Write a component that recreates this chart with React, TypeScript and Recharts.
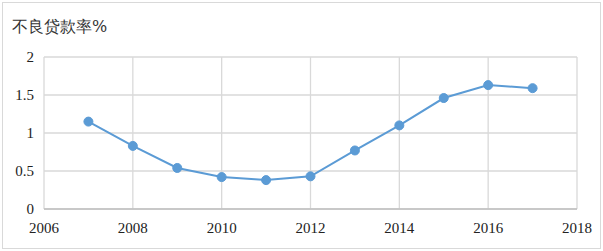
import React from 'react';
import { LineChart, Line, XAxis, YAxis, CartesianGrid } from 'recharts';

const years = [2007, 2008, 2009, 2010, 2011, 2012, 2013, 2014, 2015, 2016, 2017];
const nplRates = [1.15, 0.83, 0.54, 0.42, 0.38, 0.43, 0.77, 1.1, 1.46, 1.63, 1.59];
const xTicks = [2006, 2008, 2010, 2012, 2014, 2016, 2018];
const yTicks = [0, 0.5, 1, 1.5, 2];
const title = '不良贷款率%';

const data = years.map((year, i) => ({ year, rate: nplRates[i] }));

const font = 'Liberation Serif';

const App: React.FC = () => {
  return (
    <div style={{ position: 'absolute', left: 0, top: 0, width: 603, height: 251, background: '#fff' }}>
      {/* outer frame */}
      <div
        style={{
          position: 'absolute',
          left: 2,
          top: 2,
          width: 597,
          height: 245,
          border: '1px solid #d9d9d9',
        }}
      />
      <div style={{ position: 'absolute', left: 12, top: 17, fontSize: 16, color: '#333', fontFamily: 'DejaVu Serif' }}>{title}</div>
      <div style={{ position: 'absolute', left: 0, top: 0 }}>
        <LineChart width={603} height={251} data={data} margin={{ top: 57, right: 26, bottom: 0, left: 8 }} style={{ fontFamily: font }}>
          <CartesianGrid stroke="#d9d9d9" strokeWidth={1.3} />
          <XAxis
            dataKey="year"
            type="number"
            domain={[2006, 2018]}
            ticks={xTicks}
            height={42}
            axisLine={{ stroke: '#bfbfbf', strokeWidth: 1.5 }}
            tickLine={false}
            tickSize={0}
            tickMargin={13}
            tick={{ fill: '#222', fontSize: 15, style: { fontFamily: font } }}
          />
          <YAxis
            type="number"
            domain={[0, 2]}
            ticks={yTicks}
            width={36}
            axisLine={false}
            tickLine={false}
            tickSize={0}
            tickMargin={10}
            tick={{ fill: '#222', fontSize: 15, style: { fontFamily: font } }}
          />
          <Line
            type="linear"
            dataKey="rate"
            stroke="#5b9bd5"
            strokeWidth={2}
            dot={{ fill: '#5b9bd5', stroke: '#5b9bd5', strokeWidth: 1, r: 4.5 }}
            isAnimationActive={false}
          />
        </LineChart>
      </div>
    </div>
  );
};

export default App;
